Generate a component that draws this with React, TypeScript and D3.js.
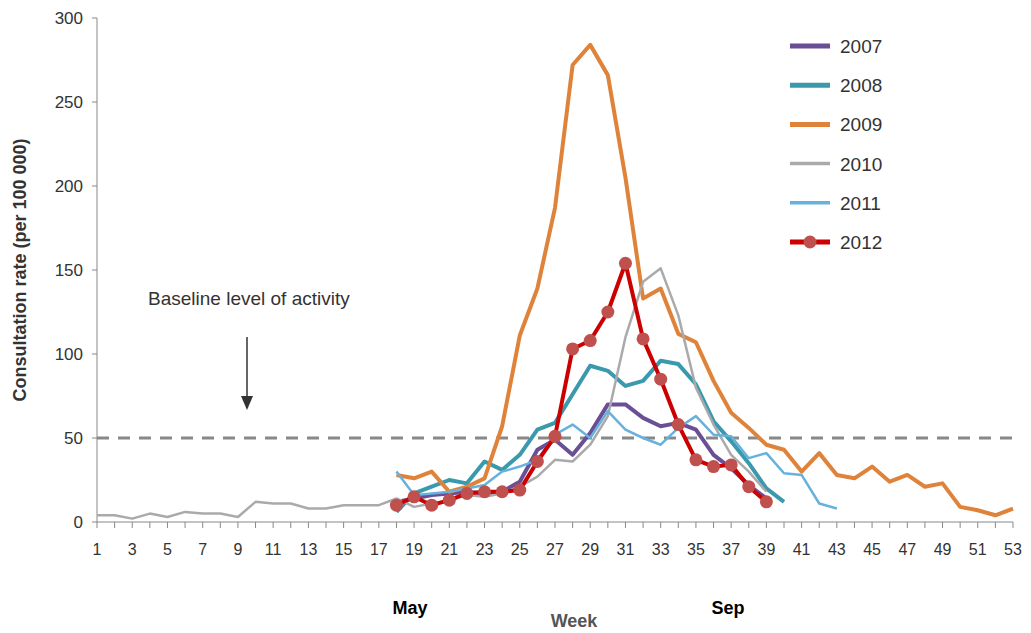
import * as d3 from "d3";

const years = ["2007", "2008", "2009", "2010", "2011", "2012"];
const colors = ["#6b4f96", "#3a99ad", "#e0833a", "#aaaaaa", "#67b1dd", "#cc0000"];
const widths = [4, 4, 4, 2.5, 2.5, 4];
const startWeek = [18, 18, 18, 1, 18, 18];
const s2007 = [12, 14, 16, 17, 18, 17, 18, 24, 43, 49, 40, 53, 70, 70, 62, 57, 59, 55, 40, 32, 22, 14];
const s2008 = [6, 17, 21, 25, 23, 36, 31, 40, 55, 59, 76, 93, 90, 81, 84, 96, 94, 82, 60, 48, 35, 20, 12];
const s2009 = [28, 26, 30, 18, 21, 26, 57, 111, 139, 187, 272, 284, 266, 205, 133, 139, 112, 107, 84, 65, 56, 46, 43, 30, 41, 28, 26, 33, 24, 28, 21, 23, 9, 7, 4, 8];
const s2010 = [4, 4, 2, 5, 3, 6, 5, 5, 3, 12, 11, 11, 8, 8, 10, 10, 10, 14, 9, 11, 13, 16, 15, 17, 21, 27, 37, 36, 46, 63, 110, 143, 151, 123, 80, 58, 40, 30, 18];
const s2011 = [30, 16, 17, 18, 20, 22, 30, 33, 37, 52, 58, 50, 66, 55, 50, 46, 56, 63, 52, 51, 38, 41, 29, 28, 11, 8];
const s2012 = [10, 15, 10, 13, 17, 18, 18, 19, 36, 51, 103, 108, 125, 154, 109, 85, 58, 37, 33, 34, 21, 12];
const series = [s2007, s2008, s2009, s2010, s2011, s2012];
const yTicks = [0, 50, 100, 150, 200, 250, 300];
const weekTicks = d3.range(1, 54, 2);
const baseline = 50;

const x = d3.scaleLinear().domain([1, 53]).range([97, 1013]);
const y = d3.scaleLinear().domain([0, 300]).range([522, 18]);
const font = "Arial, 'Liberation Sans', sans-serif";

export default function App() {
  const line = d3.line<[number, number]>().x((d) => x(d[0])).y((d) => y(d[1]));
  return (
    <svg width={1031} height={633} style={{ position: "absolute", left: 0, top: 0 }} fontFamily={font}>
      <line x1={97} x2={97} y1={18} y2={522} stroke="#888" />
      {yTicks.map((t) => (
        <g key={t}>
          <line x1={92} x2={97} y1={y(t)} y2={y(t)} stroke="#888" />
          <text x={83} y={y(t) + 6} textAnchor="end" fontSize={17} fill="#333">{t}</text>
        </g>
      ))}
      <line x1={97} x2={1013} y1={522} y2={522} stroke="#888" />
      {d3.range(1, 54).map((w) => (
        <line key={w} x1={x(w)} x2={x(w)} y1={522} y2={528} stroke="#888" />
      ))}
      {weekTicks.map((w) => (
        <text key={w} x={x(w)} y={555} textAnchor="middle" fontSize={16} fill="#333">{w}</text>
      ))}
      <line x1={97} x2={1013} y1={y(baseline)} y2={y(baseline)} stroke="#888" strokeWidth={3} strokeDasharray="12,9" />
      {series.map((s, i) => (
        <path key={years[i]} d={line(s.map((v, j) => [startWeek[i] + j, v]))!} fill="none" stroke={colors[i]} strokeWidth={widths[i]} strokeLinejoin="round" />
      ))}
      {s2012.map((v, j) => (
        <circle key={j} cx={x(18 + j)} cy={y(v)} r={6.5} fill="#c0504d" />
      ))}
      {years.map((yr, i) => (
        <g key={yr} transform={`translate(790, ${46 + i * 39.2})`}>
          <line x1={0} x2={40} y1={0} y2={0} stroke={colors[i]} strokeWidth={widths[i] + 1} />
          {i === 5 && <circle cx={20} cy={0} r={6.5} fill="#c0504d" />}
          <text x={50} y={7} fontSize={19} fill="#333">{yr}</text>
        </g>
      ))}
      <text x={148} y={305} fontSize={19} fill="#333">Baseline level of activity</text>
      <line x1={247} x2={247} y1={337} y2={398} stroke="#333" strokeWidth={1.5} />
      <path d="M241,396 L253,396 L247,410 Z" fill="#333" />
      <text transform="translate(26,270) rotate(-90)" textAnchor="middle" fontSize={18} fontWeight="bold" fill="#333">Consultation rate (per 100 000)</text>
      <text x={410} y={614} textAnchor="middle" fontSize={18} fontWeight="bold" fill="#000">May</text>
      <text x={728} y={614} textAnchor="middle" fontSize={18} fontWeight="bold" fill="#000">Sep</text>
      <text x={574} y={627} textAnchor="middle" fontSize={18} fontWeight="bold" fill="#555">Week</text>
    </svg>
  );
}
